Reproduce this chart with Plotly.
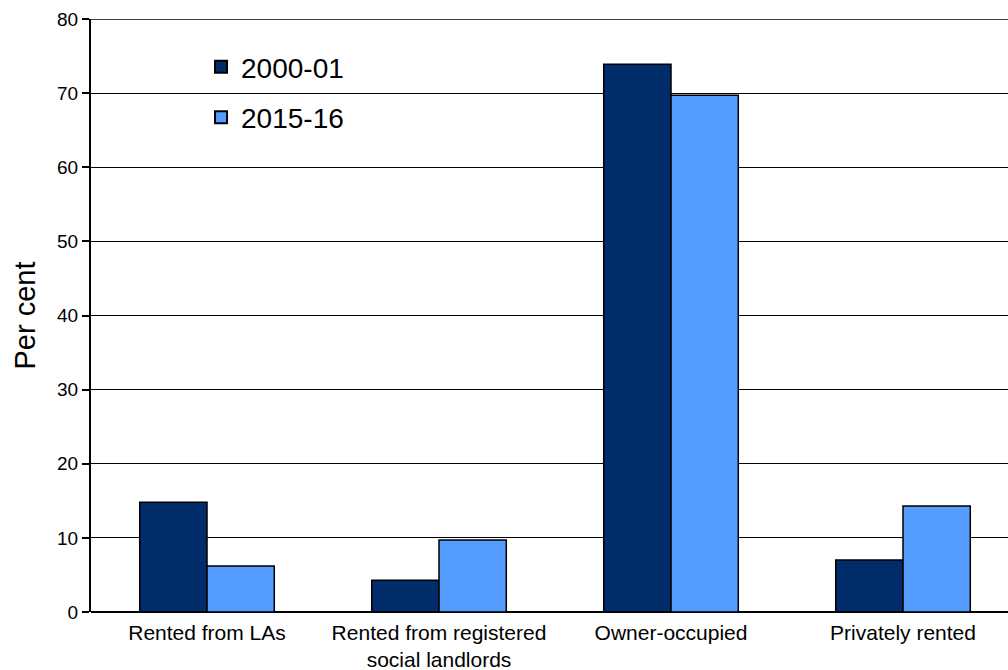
import plotly.graph_objects as go

categories = ["Rented from LAs", "Rented from registered<br>social landlords", "Owner-occupied", "Privately rented"]
series_names = ["2000-01", "2015-16"]
values_2000 = [14.8, 4.3, 73.9, 7.0]
values_2015 = [6.2, 9.7, 69.7, 14.3]
y_ticks = [0, 10, 20, 30, 40, 50, 60, 70, 80]

colors = ["#002D69", "#559CFF"]

fig = go.Figure()
for name, vals, col, grp in zip(series_names, [values_2000, values_2015], colors, ["a", "b"]):
    fig.add_trace(go.Bar(
        x=categories, y=vals, name=name, legendgroup=grp,
        marker=dict(color=col, line=dict(color="black", width=1.5)),
    ))

# top gridline at the axis maximum
fig.add_shape(type="line", xref="paper", yref="y", x0=0, x1=1, y0=y_ticks[-1], y1=y_ticks[-1],
              line=dict(color="black", width=1.3), layer="below")

fig.update_layout(
    width=1008, height=670,
    margin=dict(l=91, r=0, t=19, b=58),
    paper_bgcolor="white", plot_bgcolor="white",
    barmode="group", bargap=0.42, bargroupgap=0,
    font=dict(family="Liberation Sans, Arial, sans-serif", color="black"),
    legend=dict(x=0.12, y=0.961, xanchor="left", yanchor="top",
                font=dict(size=28), tracegroupgap=11, bgcolor="rgba(0,0,0,0)",
                itemsizing="constant"),
    showlegend=True,
)
fig.update_xaxes(
    range=[-0.5, 3.4526], showgrid=False, showline=False, ticks="",
    tickfont=dict(size=21), zeroline=False, ticklabelstandoff=6,
)
fig.update_yaxes(
    range=[0, 80], tickvals=y_ticks, showgrid=True, gridcolor="black", gridwidth=1.3,
    zeroline=True, zerolinecolor="black", zerolinewidth=2,
    showline=True, linecolor="black", linewidth=2,
    ticks="outside", ticklen=7, tickcolor="black", tickwidth=1.5,
    tickfont=dict(size=19),
    title=dict(text="Per cent", font=dict(size=29), standoff=13),
)

fig.write_html("out.html")
